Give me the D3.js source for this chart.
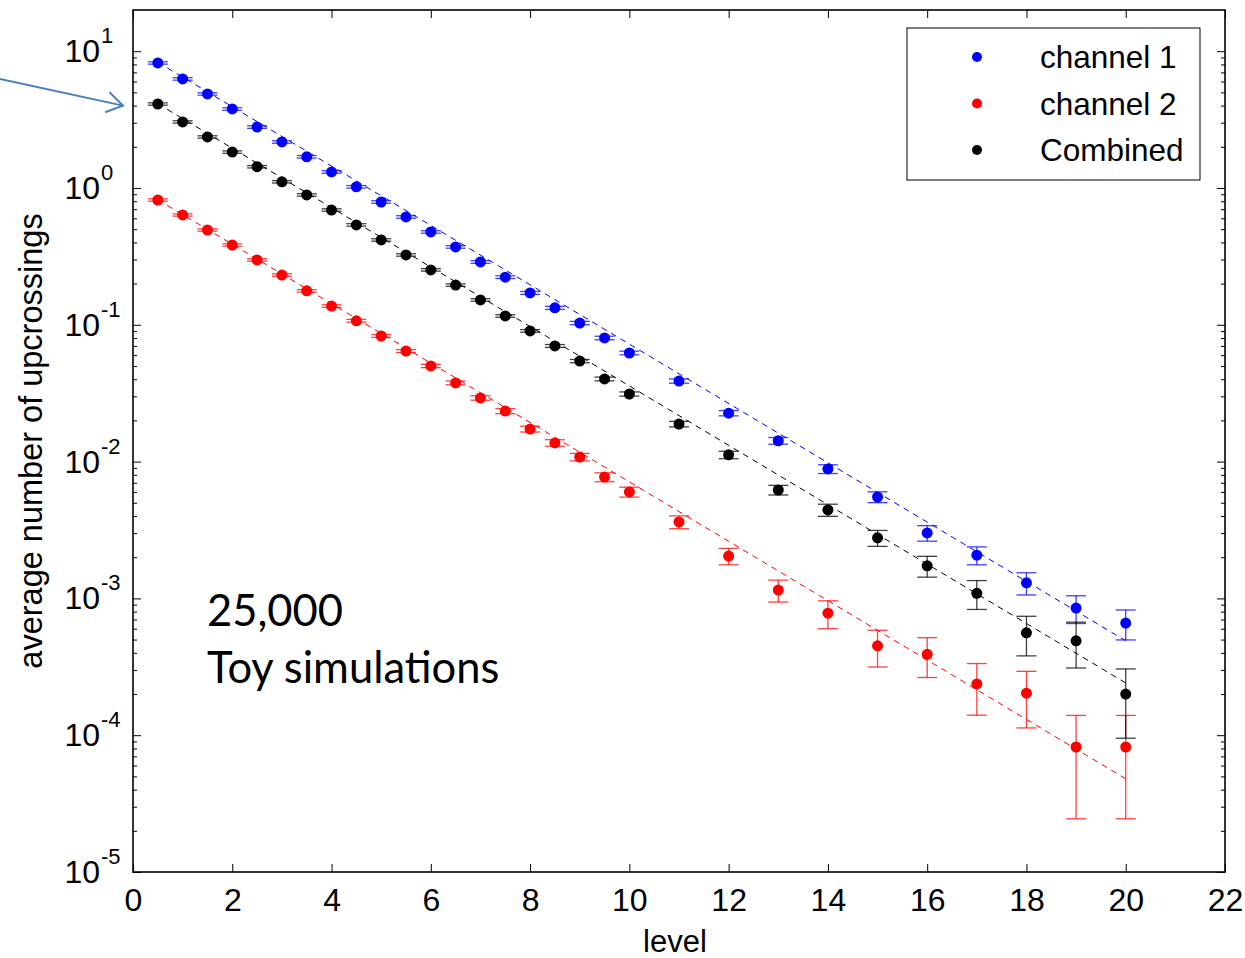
<!DOCTYPE html>
<html>
<head>
<meta charset="utf-8">
<script src="https://cdn.jsdelivr.net/npm/d3@7"></script>
<style>
  body { margin: 0; background: #fff; }
  svg { display: block; }
</style>
</head>
<body>
<div id="chart"></div>
<script>
// levels where the upcrossings were counted
const levels = [0.5, 1, 1.5, 2, 2.5, 3, 3.5, 4, 4.5, 5, 5.5, 6, 6.5, 7, 7.5, 8, 8.5, 9, 9.5, 10,
  11, 12, 13, 14, 15, 16, 17, 18, 19, 20];

const channel1 = [8.2, 6.27, 4.87, 3.78, 2.79, 2.17, 1.69, 1.31, 1.02, 0.79, 0.614, 0.477, 0.371, 0.288,
  0.223, 0.171, 0.133, 0.103, 0.0801, 0.0622, 0.0388, 0.0226, 0.0142, 0.00883, 0.00551, 0.00301,
  0.00207, 0.0013, 0.00085, 0.00066];
const channel1Err = [0.16, 0.13, 0.1, 0.08, 0.06, 0.045, 0.035, 0.028, 0.022, 0.017, 0.013, 0.01, 0.008,
  0.0065, 0.0052, 0.0042, 0.0035, 0.0029, 0.0024, 0.0019, 0.0014, 0.001, 0.0008, 0.00065, 0.0005,
  0.00039, 0.00031, 0.00024, 0.000195, 0.000163];

const channel2 = [0.817, 0.635, 0.493, 0.383, 0.298, 0.231, 0.177, 0.137, 0.107, 0.0828, 0.0643, 0.05,
  0.0376, 0.0292, 0.0234, 0.0173, 0.0137, 0.0108, 0.0077, 0.006, 0.00362, 0.00204, 0.00115, 0.00078,
  0.00045, 0.00039, 0.000237, 0.000203, 0.000082, 0.000082];
const channel2Err = [0.016, 0.012, 0.0095, 0.0075, 0.006, 0.0047, 0.0037, 0.003, 0.0025, 0.0019, 0.0016,
  0.0014, 0.0012, 0.0011, 0.001, 0.00085, 0.00075, 0.00068, 0.00058, 0.0005, 0.00039, 0.00028,
  0.00021, 0.00018, 0.000135, 0.000126, 0.000097, 0.00009, 0.0000575, 0.0000575];

const combined = [4.11, 3.04, 2.36, 1.83, 1.43, 1.11, 0.889, 0.69, 0.537, 0.417, 0.324, 0.252, 0.195,
  0.152, 0.116, 0.0902, 0.07, 0.0543, 0.0402, 0.0312, 0.0188, 0.0112, 0.0062, 0.00443, 0.00277,
  0.00173, 0.00109, 0.00056, 0.00049, 0.0002];
const combinedErr = [0.08, 0.06, 0.047, 0.037, 0.029, 0.022, 0.018, 0.014, 0.011, 0.0085, 0.0066, 0.0052,
  0.004, 0.0032, 0.0025, 0.002, 0.0017, 0.0015, 0.00127, 0.0011, 0.00087, 0.0007, 0.0005, 0.00045,
  0.00037, 0.0003, 0.00026, 0.00018, 0.00018, 0.000105];

// dashed reference lines (end points)
const fitLevels = [0.5, 20];
const channel1Fit = [8.3, 0.00049];
const channel2Fit = [0.82, 0.000048];
const combinedFit = [4.13, 0.000241];

const seriesNames = ["channel 1", "channel 2", "Combined"];
const seriesColors = ["#0000ff", "#ff0000", "#000000"];

const xTicks = [0, 2, 4, 6, 8, 10, 12, 14, 16, 18, 20, 22];
const yDecades = [-5, -4, -3, -2, -1, 0, 1];

const W = 1245, H = 958;
const box = { left: 133, top: 10, right: 1225, bottom: 872 };
const font = "'Liberation Sans', Arial, sans-serif";

const svg = d3.select("#chart").append("svg")
  .attr("width", W).attr("height", H)
  .attr("viewBox", `0 0 ${W} ${H}`);

const x = d3.scaleLinear().domain([0, 22]).range([box.left, box.right]);
const y = d3.scaleLog().domain([1e-5, 20]).range([box.bottom, box.top]);

const series = [
  { vals: channel1, err: channel1Err, fit: channel1Fit },
  { vals: channel2, err: channel2Err, fit: channel2Fit },
  { vals: combined, err: combinedErr, fit: combinedFit },
].map((s, i) => ({ ...s, name: seriesNames[i], color: seriesColors[i] }));

// axes (ticks point inward, MATLAB style)
const majorY = yDecades.map((e) => Math.pow(10, e));
const minorY = [];
yDecades.forEach((e) => {
  for (let k = 2; k <= 9; k++) {
    const v = k * Math.pow(10, e);
    if (v < 20) minorY.push(v);
  }
});

function styleAxis(g) {
  g.select(".domain").remove();
  g.selectAll(".tick line").attr("stroke", "#000").attr("stroke-width", 1);
}

svg.append("g")
  .attr("transform", `translate(0,${box.bottom})`)
  .call(d3.axisBottom(x).tickValues(xTicks).tickSize(-8).tickPadding(16).tickFormat(d3.format("d")))
  .call(styleAxis)
  .call((g) => g.selectAll("text").attr("font-size", 32).attr("font-family", font).attr("fill", "#000"));

svg.append("g")
  .attr("transform", `translate(0,${box.top})`)
  .call(d3.axisTop(x).tickValues(xTicks).tickSize(-8).tickFormat(""))
  .call(styleAxis);

[[d3.axisLeft, box.left], [d3.axisRight, box.right]].forEach(([ax, pos]) => {
  svg.append("g")
    .attr("transform", `translate(${pos},0)`)
    .call(ax(y).tickValues(majorY).tickSize(-8).tickFormat(""))
    .call(styleAxis);
  svg.append("g")
    .attr("transform", `translate(${pos},0)`)
    .call(ax(y).tickValues(minorY).tickSize(-4).tickFormat(""))
    .call(styleAxis);
});

// y tick labels 10^n
const ylab = svg.append("g").attr("font-family", font).attr("fill", "#000");
yDecades.forEach((e) => {
  const yy = y(Math.pow(10, e));
  ylab.append("text")
    .attr("x", 100).attr("y", yy + 11)
    .attr("text-anchor", "end")
    .attr("font-size", 32)
    .text("10");
  ylab.append("text")
    .attr("x", 101).attr("y", yy - 8)
    .attr("font-size", 22)
    .text(e);
});

// frame
svg.append("rect")
  .attr("x", box.left).attr("y", box.top)
  .attr("width", box.right - box.left).attr("height", box.bottom - box.top)
  .attr("fill", "none").attr("stroke", "#000").attr("stroke-width", 1.6);

// axis titles
svg.append("text")
  .attr("x", (box.left + box.right) / 2 - 4).attr("y", 952)
  .attr("text-anchor", "middle")
  .attr("font-family", font).attr("font-size", 31)
  .text("level");

svg.append("text")
  .attr("transform", `translate(42,${(box.top + box.bottom) / 2}) rotate(-90)`)
  .attr("text-anchor", "middle")
  .attr("font-family", font).attr("font-size", 32.5)
  .text("average number of upcrossings");

// dashed lines
const plot = svg.append("g");
const line = d3.line().x((d) => x(d[0])).y((d) => y(d[1]));
series.forEach((s) => {
  plot.append("path")
    .datum(fitLevels.map((l, i) => [l, s.fit[i]]))
    .attr("d", line)
    .attr("fill", "none")
    .attr("stroke", s.color)
    .attr("stroke-width", 1)
    .attr("stroke-dasharray", "6,5");
});

// error bars and points
const capW = 10;
series.forEach((s) => {
  const g = plot.append("g");
  const pts = levels.map((l, i) => ({ l, v: s.vals[i], e: s.err[i] }));
  const bars = g.selectAll("g.bar").data(pts).join("g").attr("class", "bar")
    .attr("stroke", s.color).attr("stroke-width", 1.3).attr("stroke-opacity", 0.75);
  bars.append("line")
    .attr("x1", (d) => x(d.l)).attr("x2", (d) => x(d.l))
    .attr("y1", (d) => y(d.v - d.e)).attr("y2", (d) => y(d.v + d.e));
  bars.append("line")
    .attr("x1", (d) => x(d.l) - capW).attr("x2", (d) => x(d.l) + capW)
    .attr("y1", (d) => y(d.v - d.e)).attr("y2", (d) => y(d.v - d.e));
  bars.append("line")
    .attr("x1", (d) => x(d.l) - capW).attr("x2", (d) => x(d.l) + capW)
    .attr("y1", (d) => y(d.v + d.e)).attr("y2", (d) => y(d.v + d.e));
  g.selectAll("circle").data(pts).join("circle")
    .attr("cx", (d) => x(d.l)).attr("cy", (d) => y(d.v))
    .attr("r", 5.5)
    .attr("fill", s.color);
});

// legend
const leg = svg.append("g");
leg.append("rect")
  .attr("x", 907).attr("y", 28).attr("width", 293).attr("height", 152)
  .attr("fill", "#fff").attr("stroke", "#000").attr("stroke-width", 1);
series.forEach((s, i) => {
  const ly = 57 + i * 46.5;
  leg.append("circle").attr("cx", 977).attr("cy", ly).attr("r", 5).attr("fill", s.color);
  leg.append("text")
    .attr("x", 1040).attr("y", ly + 11)
    .attr("font-family", font).attr("font-size", 31.5)
    .text(s.name);
});

// annotation
const note = svg.append("g").attr("font-family", "Lato, 'Open Sans', sans-serif").attr("font-size", 43.5).attr("fill", "#000");
note.append("text").attr("x", 207).attr("y", 626).text("25,000");
note.append("text").attr("x", 207).attr("y", 683).text("Toy simulations");

// arrow pointing at the left axis
const tip = [x(0) - 10, y(4)];
const tail = [0, 79];
const ang = Math.atan2(tip[1] - tail[1], tip[0] - tail[0]);
const headLen = 19, spread = Math.PI / 5.5;
const arrow = svg.append("g").attr("stroke", "#4a7ebb").attr("stroke-width", 2).attr("fill", "none");
arrow.append("line")
  .attr("x1", tail[0]).attr("y1", tail[1]).attr("x2", tip[0]).attr("y2", tip[1]);
arrow.append("path")
  .attr("d", d3.line()([
    [tip[0] - headLen * Math.cos(ang - spread), tip[1] - headLen * Math.sin(ang - spread)],
    tip,
    [tip[0] - headLen * Math.cos(ang + spread), tip[1] - headLen * Math.sin(ang + spread)],
  ]));
</script>
</body>
</html>
